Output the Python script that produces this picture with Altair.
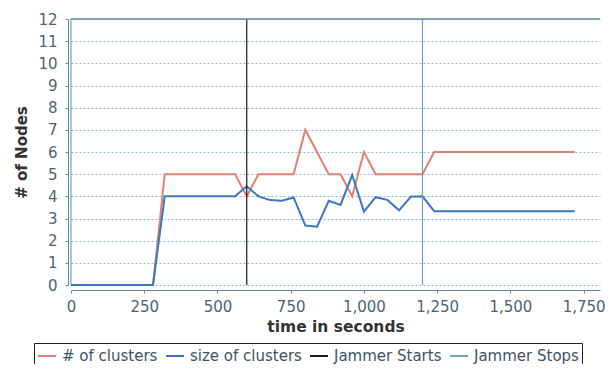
import altair as alt
import pandas as pd

# ---- data ----
times = [0, 40, 80, 120, 160, 200, 240, 280, 320, 360, 400, 440, 480, 520, 560,
         600, 640, 680, 720, 760, 800, 840, 880, 920, 960, 1000, 1040, 1080, 1120,
         1160, 1200, 1240, 1280, 1320, 1360, 1400, 1440, 1480, 1520, 1560, 1600,
         1640, 1680, 1720]
num_clusters = [0, 0, 0, 0, 0, 0, 0, 0, 5, 5, 5, 5, 5, 5, 5,
                4, 5, 5, 5, 5, 7, 6, 5, 5, 4, 6, 5, 5, 5,
                5, 5, 6, 6, 6, 6, 6, 6, 6, 6, 6, 6,
                6, 6, 6]
size_clusters = [0, 0, 0, 0, 0, 0, 0, 0, 4, 4, 4, 4, 4, 4, 4,
                 4.45, 4.0, 3.83, 3.8, 3.95, 2.68, 2.63, 3.8, 3.61, 4.96, 3.31, 3.96, 3.84, 3.37,
                 3.98, 4.0, 3.33, 3.33, 3.33, 3.33, 3.33, 3.33, 3.33, 3.33, 3.33, 3.33,
                 3.33, 3.33, 3.33]
jammer_start_t = [600, 600]
jammer_stop_t = [1200, 1200]
jammer_y = [0, 12]

series_names = ["# of clusters", "size of clusters", "Jammer Starts", "Jammer Stops"]
series_colors = ["#e4806f", "#3b78c4", "#1a1a1a", "#6fa3c2"]
x_ticks = [0, 250, 500, 750, 1000, 1250, 1500, 1750]
y_ticks = [0, 1, 2, 3, 4, 5, 6, 7, 8, 9, 10, 11, 12]

# ---- tables ----
rows = []
for i, (t, v) in enumerate(zip(times, num_clusters)):
    rows.append({"series": series_names[0], "t": t, "v": v, "o": i})
for i, (t, v) in enumerate(zip(times, size_clusters)):
    rows.append({"series": series_names[1], "t": t, "v": v, "o": i})
data_df = pd.DataFrame(rows)

jrows = []
for i, (t, v) in enumerate(zip(jammer_start_t, jammer_y)):
    jrows.append({"series": series_names[2], "t": t, "v": v, "o": i})
for i, (t, v) in enumerate(zip(jammer_stop_t, jammer_y)):
    jrows.append({"series": series_names[3], "t": t, "v": v, "o": i})
jam_df = pd.DataFrame(jrows)

frame_top = pd.DataFrame({"v": [12]})
frame_left = pd.DataFrame({"t": [0]})

axis_col = "#5f8ea6"
label_col = "#46677a"

x_scale = alt.Scale(domain=[0, 1806], nice=False, zero=False)
y_scale = alt.Scale(domain=[0, 12], nice=False)

x_axis = alt.Axis(title="time in seconds", values=x_ticks, format=",d",
                  grid=False, offset=5, tickSize=3, labelPadding=6,
                  titlePadding=5, labelFontSize=15, titleFontSize=15.5,
                  titleFontWeight="bold", titleColor="#333333",
                  labelColor=label_col, domainColor=axis_col,
                  tickColor=axis_col, labelFlush=False, labelOverlap=False)
y_axis = alt.Axis(title="# of Nodes", values=y_ticks, tickCount=13, grid=True,
                  gridDash=[2, 2], gridColor="#8dbad4", gridWidth=1,
                  offset=3, tickSize=3, labelPadding=8, titlePadding=8,
                  labelFontSize=15, titleFontSize=15,
                  titleFontWeight="bold", titleColor="#333333",
                  labelColor=label_col, domainColor=axis_col,
                  tickColor=axis_col, labelOverlap=False)

x_enc = alt.X("t:Q", scale=x_scale, axis=x_axis)
y_enc = alt.Y("v:Q", scale=y_scale, axis=y_axis)

legend = alt.Legend(title=None, orient="none", legendX=-37, legendY=324,
                    direction="horizontal", columns=4, symbolType="stroke",
                    symbolSize=324, symbolStrokeWidth=2, labelFontSize=15,
                    labelColor="#3d5566", strokeColor="#222222", padding=3,
                    columnPadding=4, labelOffset=5)

color_enc = alt.Color("series:N",
                      scale=alt.Scale(domain=series_names, range=series_colors),
                      legend=legend)

lines = alt.Chart(data_df).mark_line(strokeWidth=2).encode(
    x=x_enc, y=y_enc, color=color_enc, order="o:Q"
)

jam = alt.Chart(jam_df).mark_line(strokeWidth=1.2).encode(
    x=x_enc, y=y_enc, color=color_enc, order="o:Q"
)

top_rule = alt.Chart(frame_top).mark_rule(color=axis_col, strokeWidth=1.5).encode(
    y=y_enc
)
left_rule = alt.Chart(frame_left).mark_rule(color=axis_col, strokeWidth=1).encode(
    x=x_enc
)

chart = alt.layer(lines, jam, top_rule, left_rule).properties(
    width=529, height=266,
    autosize=alt.AutoSizeParams(type="none"),
    padding={"left": 63, "top": 11, "right": 5, "bottom": 79},
).configure(font="DejaVu Sans").configure_view(stroke=None)

chart.save("out.html", embed_options={"renderer": "svg", "actions": False})
